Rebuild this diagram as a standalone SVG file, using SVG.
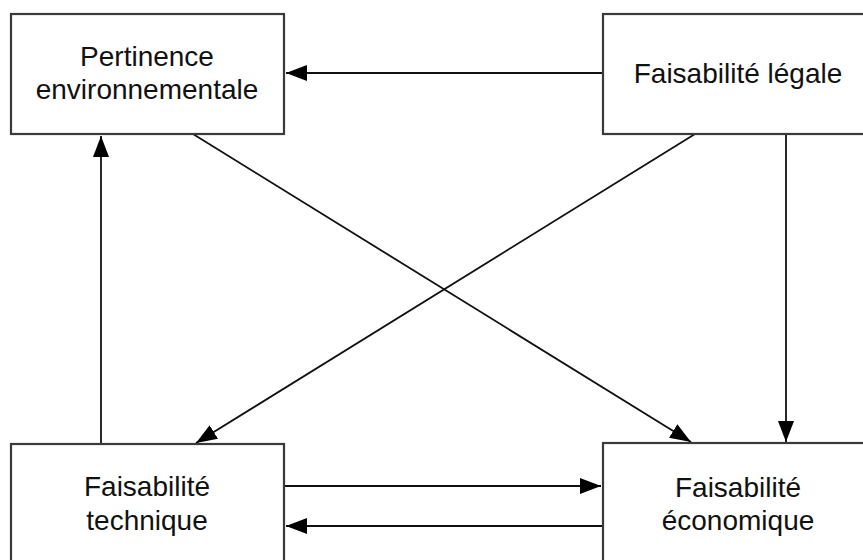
<svg xmlns="http://www.w3.org/2000/svg" width="863" height="560" viewBox="0 0 863 560">
<style>
.box{fill:#fff;stroke:#3a3a3a;stroke-width:2.2}
.lbl{font-family:"Liberation Sans",Arial,sans-serif;font-size:28px;fill:#111;text-anchor:middle}
.con{stroke:#111;stroke-width:1.8;fill:none;marker-end:url(#ah)}
</style>
<defs>
<marker id="ah" markerUnits="userSpaceOnUse" markerWidth="22" markerHeight="16" refX="21" refY="8" orient="auto">
<path d="M0,0 L21,8 L0,16 Z" fill="#000"/>
</marker>
</defs>
<rect width="863" height="560" fill="#fff"/>
<g id="connectors">
<line class="con" x1="603" y1="73" x2="286" y2="73"/>
<line class="con" x1="101" y1="444" x2="101" y2="136"/>
<line class="con" x1="193" y1="134" x2="691" y2="442"/>
<line class="con" x1="695" y1="134" x2="196" y2="443"/>
<line class="con" x1="786" y1="134" x2="786" y2="442"/>
<line class="con" x1="284" y1="486" x2="601" y2="486"/>
<line class="con" x1="603" y1="526" x2="286" y2="526"/>
</g>
<g id="pertinence">
<rect class="box" x="11" y="14" width="273" height="120"/>
<text class="lbl" x="147" y="66">Pertinence</text>
<text class="lbl" x="147" y="99">environnementale</text>
</g>
<g id="legale">
<rect class="box" x="603" y="14" width="273" height="120"/>
<text class="lbl" x="738" y="83">Faisabilité légale</text>
</g>
<g id="technique">
<rect class="box" x="11" y="444" width="273" height="130"/>
<text class="lbl" x="147" y="496">Faisabilité</text>
<text class="lbl" x="147" y="530">technique</text>
</g>
<g id="economique">
<rect class="box" x="603" y="443" width="273" height="130"/>
<text class="lbl" x="738" y="497">Faisabilité</text>
<text class="lbl" x="738" y="530">économique</text>
</g>
</svg>
